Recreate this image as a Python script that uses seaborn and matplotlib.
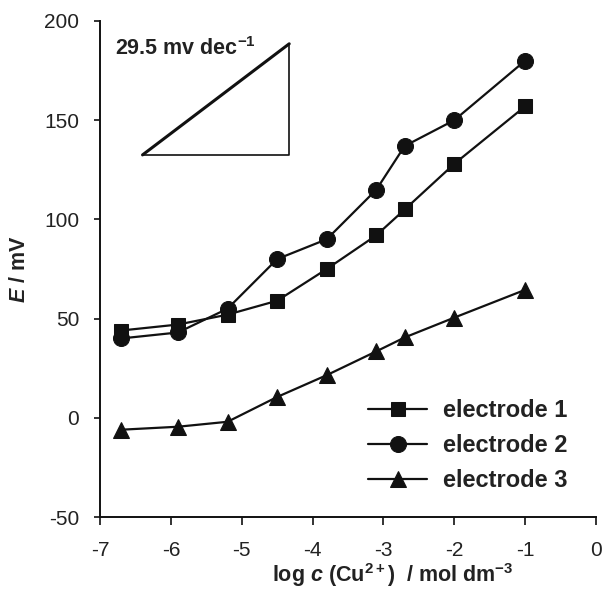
import matplotlib
matplotlib.use("Agg")
import matplotlib.pyplot as plt
import seaborn as sns
import pandas as pd

# data
log_c = [-6.7, -5.9, -5.2, -4.5, -3.8, -3.1, -2.7, -2.0, -1.0]
electrode_1 = [44, 47, 52, 59, 75, 92, 105, 128, 157]
electrode_2 = [40, 43, 55, 80, 90, 115, 137, 150, 180]
electrode_3 = [-6, -4.5, -2, 10.5, 21.5, 33.5, 40.5, 50.5, 64.5]
series_names = ["electrode 1", "electrode 2", "electrode 3"]

# slope guide triangle (corners in data units)
guide_x = [-6.4, -4.33]
guide_y = [132.5, 188.5]
guide_text = r"29.5 mv dec$^{-1}$"

sns.set_theme(style="ticks")
plt.rcParams["font.family"] = ["Liberation Sans", "DejaVu Sans"]
plt.rcParams["axes.unicode_minus"] = False
plt.rcParams["mathtext.fontset"] = "custom"
plt.rcParams["mathtext.rm"] = "Liberation Sans:bold"
plt.rcParams["mathtext.bf"] = "Liberation Sans:bold"
plt.rcParams["mathtext.it"] = "Liberation Sans:italic:bold"

df = pd.DataFrame({
    "log_c": log_c * 3,
    "E": electrode_1 + electrode_2 + electrode_3,
    "electrode": sum([[n] * len(log_c) for n in series_names], []),
})

fig = plt.figure(figsize=(6.04, 5.91), dpi=100)
ax = fig.add_axes([0.1656, 0.1252, 0.8212, 0.8393])

markers = {"electrode 1": "s", "electrode 2": "o", "electrode 3": "^"}
sizes = {"electrode 1": 9.5, "electrode 2": 11.5, "electrode 3": 12}
for name in series_names:
    sub = df[df["electrode"] == name]
    sns.lineplot(data=sub, x="log_c", y="E", ax=ax, color="#111111",
                 marker=markers[name], markersize=sizes[name],
                 markeredgecolor="#111111", linewidth=1.6, label=name)

# slope triangle
ax.plot([guide_x[0], guide_x[1]], [guide_y[0], guide_y[1]], color="#111111", lw=2.2,
        solid_capstyle="round")
ax.plot([guide_x[1], guide_x[1], guide_x[0]], [guide_y[1], guide_y[0], guide_y[0]],
        color="#111111", lw=1.2)
ax.text(-6.79, 186, guide_text, fontsize=15.5, fontweight="bold", va="center", ha="left",
        color="#222222")

ax.set_xlim(-7, 0)
ax.set_ylim(-50, 200)
ax.set_xticks(range(-7, 1))
ax.set_yticks(range(-50, 201, 50))
ax.tick_params(labelsize=15, width=1.2, color="#111111", labelcolor="#222222")
ax.tick_params(axis="x", length=6, pad=11)
ax.tick_params(axis="y", length=4, pad=11)
for s in ["top", "right"]:
    ax.spines[s].set_visible(False)
for s in ["left", "bottom"]:
    ax.spines[s].set_linewidth(1.4)
    ax.spines[s].set_color("#111111")

ax.set_xlabel(r"log $c$ (Cu$^{2+}$)  / mol dm$^{-3}$", fontsize=15.5, fontweight="bold",
              labelpad=1, color="#222222", x=0.59)
ax.set_ylabel(r"$E$ / mV", fontsize=15.5, fontweight="bold", labelpad=10, color="#222222")

leg = ax.legend(loc="lower right", bbox_to_anchor=(0.985, 0.008), frameon=False,
                prop={"weight": "bold", "size": 17}, handlelength=2.5,
                handletextpad=0.65, labelspacing=0.5)
for t in leg.get_texts():
    t.set_color("#222222")

fig.savefig("out.png", dpi=100)
